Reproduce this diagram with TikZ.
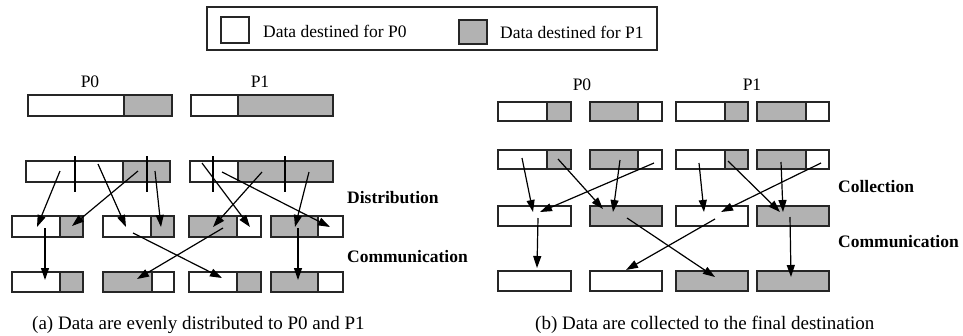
\documentclass[tikz,border=0pt]{standalone}
\usepackage{fontspec}
\setmainfont{Liberation Serif}
\usetikzlibrary{arrows.meta}
\definecolor{cellgray}{RGB}{178,178,178}
\tikzset{
  cell/.style={draw=black!85, line width=1.5pt, inner sep=0pt, outer sep=0pt},
  wcell/.style={cell, fill=white},
  gcell/.style={cell, fill=cellgray},
  flow/.style={line width=1.2pt, -{Triangle[length=12pt,width=8pt]}},
  divider/.style={line width=1.9pt},
  lbl/.style={font=\fontsize{17.5}{20}\selectfont, inner sep=0pt},
  legtext/.style={font=\fontsize{17.5}{20}\selectfont, inner sep=0pt, anchor=west},
  captext/.style={font=\fontsize{19}{22}\selectfont, inner sep=0pt, anchor=west},
  stage/.style={font=\fontsize{17.5}{20}\selectfont\bfseries, inner sep=0pt, anchor=west},
}
% one cell of a data bar: name, x1, y1, x2, y2, style
\newcommand\cellat[6]{\node[#6, minimum width={(#4-#2)*1pt}, minimum height={(#5-#3)*1pt}] (#1) at ({(#2+#4)/2},{(#3+#5)/2}) {};}
\begin{document}
\begin{tikzpicture}[x=1pt,y=-1pt]
\useasboundingbox[fill=white] (0,0) rectangle (963,335);

% legend
\node[draw=black!85, line width=1.5pt, minimum width=450pt, minimum height=43pt, inner sep=0pt] (legend) at (432,28.5) {};
\cellat{legP0}{221}{17}{249}{43}{wcell}
\cellat{legP1}{459}{20}{487}{44}{gcell}
\node[legtext] (legP0txt) at (263,31) {Data destined for P0};
\node[legtext] (legP1txt) at (500,32) {Data destined for P1};

% ---------- (a) distribution ----------
\node[lbl] (aP0) at (90,82) {P0};
\node[lbl] (aP1) at (260,82) {P1};
\cellat{aA0w}{28}{95}{124}{116}{wcell}
\cellat{aA0g}{124}{95}{172}{116}{gcell}
\cellat{aA1w}{191}{95}{238}{116}{wcell}
\cellat{aA1g}{238}{95}{333}{116}{gcell}

\cellat{aB0w}{26}{161}{123}{182}{wcell}
\cellat{aB0g}{123}{161}{170}{182}{gcell}
\cellat{aB1w}{190}{161}{238}{182}{wcell}
\cellat{aB1g}{238}{161}{333}{182}{gcell}
\foreach \x in {75,147,213,285} \draw[divider] (\x,156) -- (\x,192);

\cellat{aC1w}{12}{216}{60}{237}{wcell}
\cellat{aC1g}{60}{216}{83}{237}{gcell}
\cellat{aC2w}{103}{216}{151}{237}{wcell}
\cellat{aC2g}{151}{216}{174}{237}{gcell}
\cellat{aC3g}{189}{216}{237}{237}{gcell}
\cellat{aC3w}{237}{216}{261}{237}{wcell}
\cellat{aC4g}{271}{216}{318}{237}{gcell}
\cellat{aC4w}{318}{216}{343}{237}{wcell}

\cellat{aD1w}{12}{272}{60}{292}{wcell}
\cellat{aD1g}{60}{272}{83}{292}{gcell}
\cellat{aD2g}{103}{272}{152}{292}{gcell}
\cellat{aD2w}{152}{272}{174}{292}{wcell}
\cellat{aD3w}{189}{272}{237}{292}{wcell}
\cellat{aD3g}{237}{272}{261}{292}{gcell}
\cellat{aD4g}{271}{272}{318}{292}{gcell}
\cellat{aD4w}{318}{272}{343}{292}{wcell}

\foreach \i/\sx/\sy/\tx/\ty in {
  1/60/171/37/227, 2/138/171/72/226, 3/98/164/126/227, 4/155/171/161/227,
  5/202/163/250/227, 6/222/172/330/227, 7/262/172/213/227, 8/309/172/295/227,
  9/45/228/45/280, 10/133/233/222/278, 11/223/228/137/279, 12/298/228/298/280}{
  \coordinate (as\i) at (\sx,\sy);
  \coordinate (at\i) at (\tx,\ty);
  \draw[flow] (as\i) -- (at\i);
}
\node[stage] (aDist) at (347,198) {Distribution};
\node[stage] (aComm) at (347,257) {Communication};
\node[captext] (capA) at (32,325) {(a) Data are evenly distributed to P0 and P1};

% ---------- (b) collection ----------
\node[lbl] (bP0) at (582,85) {P0};
\node[lbl] (bP1) at (752,85) {P1};
\foreach \r/\ya/\yb in {1/102/121, 2/150/169}{
  \cellat{bR\r a}{498}{\ya}{547}{\yb}{wcell}
  \cellat{bR\r b}{547}{\ya}{571}{\yb}{gcell}
  \cellat{bR\r c}{590}{\ya}{638}{\yb}{gcell}
  \cellat{bR\r d}{638}{\ya}{662}{\yb}{wcell}
  \cellat{bR\r e}{676}{\ya}{725}{\yb}{wcell}
  \cellat{bR\r f}{725}{\ya}{748}{\yb}{gcell}
  \cellat{bR\r g}{757}{\ya}{806}{\yb}{gcell}
  \cellat{bR\r h}{806}{\ya}{829}{\yb}{wcell}
}
\cellat{bE1}{498}{206}{571}{226}{wcell}
\cellat{bE2}{590}{206}{662}{226}{gcell}
\cellat{bE3}{676}{206}{748}{226}{wcell}
\cellat{bE4}{757}{206}{829}{226}{gcell}
\cellat{bF1}{498}{271}{571}{291}{wcell}
\cellat{bF2}{590}{271}{662}{291}{wcell}
\cellat{bF3}{676}{271}{748}{291}{gcell}
\cellat{bF4}{757}{271}{829}{291}{gcell}

\foreach \i/\sx/\sy/\tx/\ty in {
  1/522/158/533/212, 2/558/159/603/209, 3/620/160/613/212, 4/654/163/540/212,
  5/699/163/704/212, 6/728/161/780/212, 7/781/162/783/212, 8/821/163/721/212,
  9/538/218/537/268, 10/627/218/715/277, 11/715/219/626/270, 12/790/217/791/277}{
  \coordinate (bs\i) at (\sx,\sy);
  \coordinate (bt\i) at (\tx,\ty);
  \draw[flow] (bs\i) -- (bt\i);
}
\node[stage] (bColl) at (838,187) {Collection};
\node[stage] (bComm) at (838,242) {Communication};
\node[captext] (capB) at (535,325) {(b) Data are collected to the final destination};
\end{tikzpicture}
\end{document}
